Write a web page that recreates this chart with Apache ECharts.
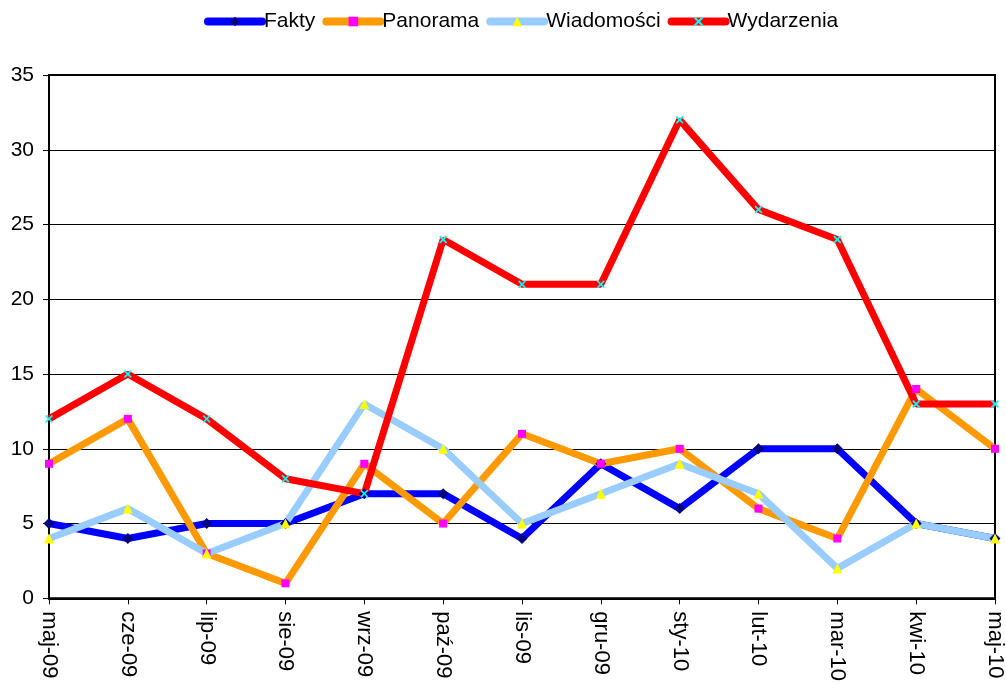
<!DOCTYPE html>
<html>
<head>
<meta charset="utf-8">
<script src="https://cdn.jsdelivr.net/npm/echarts@6/dist/echarts.min.js"></script>
<style>
  html, body { margin: 0; padding: 0; background: #fff; }
  #chart { width: 1006px; height: 684px; }
</style>
</head>
<body>
<div id="chart"></div>
<script>
var months = ['maj-09', 'cze-09', 'lip-09', 'sie-09', 'wrz-09', 'paź-09', 'lis-09', 'gru-09', 'sty-10', 'lut-10', 'mar-10', 'kwi-10', 'maj-10'];
var fakty = [5, 4, 5, 5, 7, 7, 4, 9, 6, 10, 10, 5, 4];
var panorama = [9, 12, 3, 1, 9, 5, 11, 9, 10, 6, 4, 14, 10];
var wiadomosci = [4, 6, 3, 5, 13, 10, 5, 7, 9, 7, 2, 5, 4];
var wydarzenia = [12, 15, 12, 8, 7, 24, 21, 21, 32, 26, 24, 13, 13];

var crossPath = 'path://M0,1.5L1.5,0L5,3.5L8.5,0L10,1.5L6.5,5L10,8.5L8.5,10L5,6.5L1.5,10L0,8.5L3.5,5Z';

function lineSeries(name, data, color, symbol, symColor, symSize) {
  return {
    name: name,
    type: 'line',
    data: data,
    symbol: symbol,
    symbolSize: symSize,
    showAllSymbol: true,
    lineStyle: { color: color, width: 7 },
    itemStyle: { color: symColor },
    emphasis: { disabled: true },
    animation: false
  };
}

var chart = echarts.init(document.getElementById('chart'));
chart.setOption({
  backgroundColor: '#fff',
  textStyle: { fontFamily: 'Liberation Sans, Arial, sans-serif' },
  legend: {
    top: 6,
    left: 199,
    itemWidth: 54,
    itemHeight: 12,
    itemGap: 7,
    lineStyle: { width: 8, cap: 'round' },
    textStyle: { fontSize: 21, color: '#000', padding: [0, 0, 0, -3] },
    data: ['Fakty', 'Panorama', 'Wiadomości', 'Wydarzenia']
  },
  grid: {
    left: 49,
    right: 8,
    top: 75,
    bottom: 84,
    show: true,
    borderColor: '#000',
    borderWidth: 2,
    containLabel: false
  },
  xAxis: {
    type: 'category',
    data: months,
    boundaryGap: false,
    axisLine: { lineStyle: { color: '#000', width: 2 } },
    axisTick: { length: 6, lineStyle: { color: '#000', width: 1 } },
    axisLabel: { rotate: -90, fontSize: 22, color: '#000', margin: 13, interval: 0 },
    splitLine: { show: false }
  },
  yAxis: {
    type: 'value',
    min: 0,
    max: 35,
    interval: 5,
    axisLine: { show: true, lineStyle: { color: '#000', width: 2 } },
    axisTick: { show: true, length: 6, lineStyle: { color: '#000', width: 1 } },
    axisLabel: { fontSize: 21, color: '#000', margin: 15 },
    splitLine: { lineStyle: { color: '#000', width: 1 } }
  },
  series: [
    lineSeries('Fakty', fakty, '#0000ff', 'diamond', '#000080', 11),
    lineSeries('Panorama', panorama, '#ff9900', 'rect', '#ff00ff', 8),
    lineSeries('Wiadomości', wiadomosci, '#99ccff', 'triangle', '#ffff00', 10),
    lineSeries('Wydarzenia', wydarzenia, '#ff0000', crossPath, '#00ffff', 8)
  ]
});
</script>
</body>
</html>
